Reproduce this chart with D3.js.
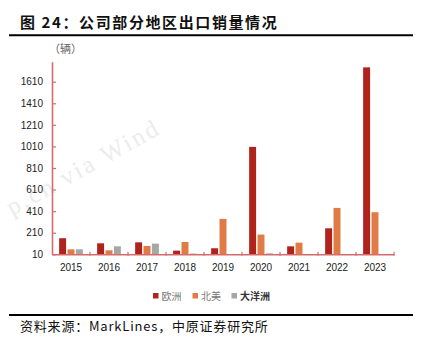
<!DOCTYPE html>
<html>
<head>
<meta charset="utf-8">
<script src="https://cdn.jsdelivr.net/npm/d3@7"></script>
<style>
html,body{margin:0;padding:0;background:#fff;}
svg{display:block;}
</style>
</head>
<body>
<svg id="chart" width="425" height="353"></svg>
<script>
const years = ["2015","2016","2017","2018","2019","2020","2021","2022","2023"];
const seriesNames = ["欧洲","北美","大洋洲"];
const europe  = [159, 112, 121, 44, 66, 1006, 84, 251, 1743];
const northAm = [56, 47, 87, 124, 338, 193, 118, 440, 400];
const oceania = [56, 84, 109, 17, 0, 19, 0, 0, 12];
const yTicks = [10, 210, 410, 610, 810, 1010, 1210, 1410, 1610];
const colors = ["#B0231D", "#E07B45", "#A6A6A6"];

const seriesValues = [europe, northAm, oceania];
const svg = d3.select("#chart");
const cjk = "'Noto Sans CJK SC','Noto Sans',sans-serif";
const latin = "'Liberation Sans',Arial,sans-serif";

// watermark
svg.append("text")
  .attr("transform", "translate(12,216) rotate(-29)")
  .attr("text-anchor", "start")
  .attr("font-family", "'Liberation Serif','DejaVu Serif',serif")
  .attr("font-size", 25)
  .attr("letter-spacing", 2.5)
  .attr("fill", "#ececec")
  .text("p.cn via Wind");

// title
svg.append("text")
  .attr("x", 20).attr("y", 28)
  .attr("font-family", cjk)
  .attr("font-weight", "bold")
  .attr("font-size", 15)
  .attr("letter-spacing", 1.6)
  .attr("fill", "#111")
  .text("图 24：公司部分地区出口销量情况");
svg.append("line").attr("x1", 9).attr("x2", 413).attr("y1", 35.2).attr("y2", 35.2)
  .attr("stroke", "#000").attr("stroke-width", 2);

// unit
svg.append("text")
  .attr("x", 49).attr("y", 53)
  .attr("font-family", cjk).attr("font-size", 11).attr("fill", "#666")
  .text("（辆）");

const margin = {left: 52, right: 394, top: 61.75, bottom: 254.3};
const x0 = d3.scaleBand().domain(years).range([margin.left, margin.right]).padding(0);
const x1 = d3.scaleBand().domain(seriesNames).range([0, x0.bandwidth()])
  .paddingInner(0.17).paddingOuter(0.85);
const y = d3.scaleLinear().domain([10, 1795]).range([margin.bottom, margin.top]).clamp(true);

const axisColor = "#D76B6B";

// bars
const groups = svg.append("g").selectAll("g")
  .data(years).join("g")
  .attr("transform", d => `translate(${x0(d)},0)`);
groups.selectAll("rect")
  .data((d, i) => seriesNames.map((s, k) => ({s, k, v: seriesValues[k][i]})))
  .join("rect")
  .attr("x", d => x1(d.s))
  .attr("width", x1.bandwidth())
  .attr("y", d => y(d.v))
  .attr("height", d => Math.max(0, y(10) - y(d.v)))
  .attr("fill", d => colors[d.k]);

// y axis
const yAxis = svg.append("g")
  .attr("transform", `translate(${margin.left},0)`)
  .call(d3.axisLeft(y).tickValues(yTicks).tickFormat(d3.format("d"))
    .tickSizeInner(-4).tickSizeOuter(0).tickPadding(9));
yAxis.select(".domain").attr("stroke", axisColor).attr("stroke-width", 1.6);
yAxis.selectAll(".tick line").attr("stroke", axisColor).attr("stroke-width", 1.2);
yAxis.selectAll(".tick text")
  .attr("font-family", latin).attr("font-size", 10).attr("fill", "#222");

// x axis
const xAxis = svg.append("g")
  .attr("transform", `translate(0,${margin.bottom})`)
  .call(d3.axisBottom(x0).tickSize(0).tickPadding(9.5));
xAxis.select(".domain").attr("stroke", axisColor).attr("stroke-width", 1.6);
xAxis.selectAll(".tick text")
  .attr("font-family", latin).attr("font-size", 10).attr("fill", "#222");
const boundaries = years.map(d => x0(d)).concat([x0.range()[1]]).slice(1);
xAxis.selectAll(".bound").data(boundaries).join("line")
  .attr("class", "bound")
  .attr("x1", d => d).attr("x2", d => d)
  .attr("y1", -2.5).attr("y2", 1.5)
  .attr("stroke", axisColor).attr("stroke-width", 1.2);

// legend
const legendX = [153, 192.5, 231.5];
const legend = svg.append("g").selectAll("g").data(seriesNames).join("g")
  .attr("transform", (d, i) => `translate(${legendX[i]},293)`);
legend.append("rect").attr("width", 5.5).attr("height", 5.5)
  .attr("fill", (d, i) => colors[i]);
legend.append("text")
  .attr("x", 8.5).attr("y", 3).attr("dy", "0.35em")
  .attr("font-family", cjk).attr("font-size", 10)
  .attr("fill", (d, i) => i === 2 ? "#333" : "#777")
  .attr("font-weight", (d, i) => i === 2 ? "bold" : "normal")
  .text(d => d);

// footer
svg.append("line").attr("x1", 9).attr("x2", 413).attr("y1", 315).attr("y2", 315)
  .attr("stroke", "#000").attr("stroke-width", 2);
svg.append("text")
  .attr("x", 20).attr("y", 331)
  .attr("font-family", cjk).attr("font-size", 13).attr("letter-spacing", 0.8)
  .attr("fill", "#111")
  .text("资料来源：MarkLines，中原证券研究所");
</script>
</body>
</html>
